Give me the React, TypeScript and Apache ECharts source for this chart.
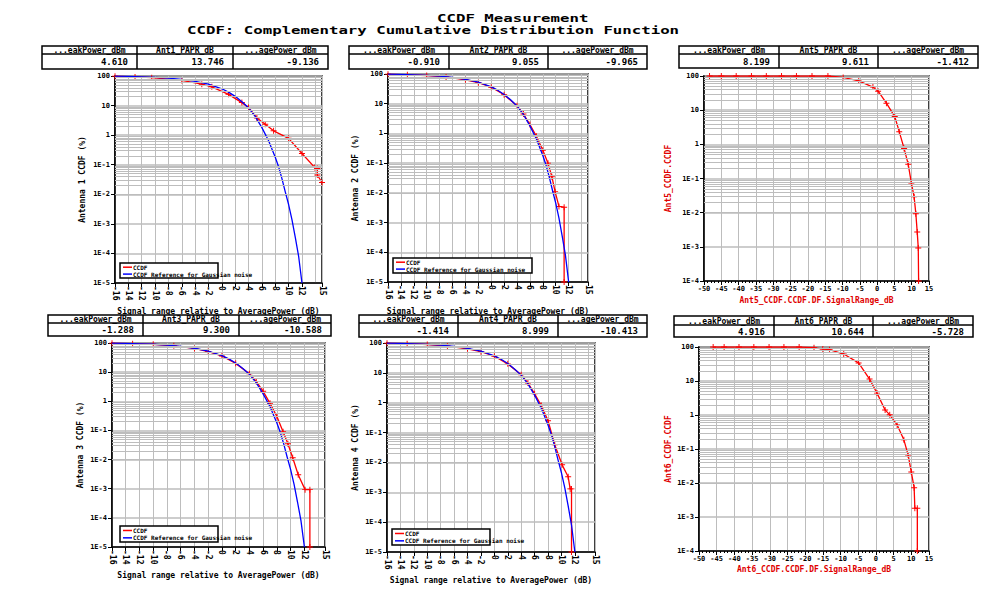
import React, { useEffect, useRef } from "react";
import * as echarts from "echarts";

// ---------- DATA ----------
const titleLine1 = "CCDF Measurement";
const titleLine2 = "CCDF: Complementary Cumulative Distribution Function";

const tableHeaders = [
  ["...eakPower_dBm", "Ant1_PAPR_dB", "...agePower_dBm"],
  ["...eakPower_dBm", "Ant2_PAPR_dB", "...agePower_dBm"],
  ["...eakPower_dBm", "Ant5_PAPR_dB", "...agePower_dBm"],
  ["...eakPower_dBm", "Ant3_PAPR_dB", "...agePower_dBm"],
  ["...eakPower_dBm", "Ant4_PAPR_dB", "...agePower_dBm"],
  ["...eakPower_dBm", "Ant6_PAPR_dB", "...agePower_dBm"],
];
const tableValues = [
  ["4.610", "13.746", "-9.136"],
  ["-0.910", "9.055", "-9.965"],
  ["8.199", "9.611", "-1.412"],
  ["-1.288", "9.300", "-10.588"],
  ["-1.414", "8.999", "-10.413"],
  ["4.916", "10.644", "-5.728"],
];

const yNames = [
  "Antenna 1 CCDF (%)",
  "Antenna 2 CCDF (%)",
  "Ant5_CCDF.CCDF",
  "Antenna 3 CCDF (%)",
  "Antenna 4 CCDF (%)",
  "Ant6_CCDF.CCDF",
];
const xNames = [
  "Signal range relative to AveragePower (dB)",
  "Signal range relative to AveragePower (dB)",
  "Ant5_CCDF.CCDF.DF.SignalRange_dB",
  "Signal range relative to AveragePower (dB)",
  "Signal range relative to AveragePower (dB)",
  "Ant6_CCDF.CCDF.DF.SignalRange_dB",
];
const legendNames = ["CCDF", "CCDF Reference for Gaussian noise"];

// Gaussian reference (blue)
const blueX = [-16, -14, -12, -10, -8, -6, -4, -2, 0, 1, 2, 3, 4, 5, 6, 7, 8, 8.5, 9, 9.5, 10, 10.5, 11, 11.5, 12];
const blueY = [98.5, 97, 94, 90.5, 85, 77, 66, 53, 37, 28.5, 20.5, 13.5, 8.4, 4.3, 1.8, 0.65, 0.18, 0.085, 0.034, 0.012, 0.0045, 0.0014, 0.00035, 0.00008, 0.00001];

const ant1X = [-16, -13, -10.5, -6, -3, -1.5, 1, 3, 4, 5.25, 6.5, 7.75, 10, 12, 13.9, 14.3, 14.3, 15];
const ant1Y = [99, 93, 88, 71, 53, 43, 24, 12.6, 8.6, 3.8, 2.35, 1.4, 0.78, 0.24, 0.081, 0.075, 0.045, 0.025];

const ant2X = [-16, -13, -10, -7, -4, -2, 0, 2, 4, 5, 6, 7, 8, 8.8, 9.4, 9.9, 10.5, 11.3, 11.3];
const ant2Y = [99, 94, 89, 80, 64, 51, 36, 20, 8.5, 4.5, 2.0, 0.8, 0.27, 0.1, 0.035, 0.011, 0.0035, 0.0033, 0.00001];

const ant5X = [-48.4, -45, -40.7, -36.3, -32, -27.6, -23.3, -18.8, -14.2, -9.8, -5.3, -1.2, 0.3, 2.7, 5.1, 6.4, 7.8, 9.0, 9.9, 10.7, 11.2, 11.6, 11.9, 12.0];
const ant5Y = [100, 100, 100, 100, 100, 100, 100, 100, 100, 91, 72, 47.5, 36, 16, 6.5, 2.35, 0.76, 0.26, 0.074, 0.029, 0.0093, 0.0027, 0.00093, 0.0001];

const ant3X = [-16, -13, -10, -7, -4, -2, 0, 2, 4, 5, 6, 7, 8, 8.9, 9.6, 10.3, 11.1, 12.1, 12.8, 12.8];
const ant3Y = [99, 95, 90, 80, 65, 51, 36, 20, 8.8, 4.8, 2.2, 0.85, 0.3, 0.09, 0.035, 0.0115, 0.003, 0.00093, 0.00093, 0.00001];

const ant4X = [-16, -13, -10, -7, -4, -2, 0, 2, 4, 5, 6, 7, 8, 9, 10.1, 11, 11.3, 11.5, 11.5];
const ant4Y = [99, 95, 89, 79, 64, 51, 36, 20, 8.6, 4.6, 2.0, 0.8, 0.25, 0.039, 0.0083, 0.0033, 0.0013, 0.0013, 0.00001];

const ant6X = [-46, -42.9, -38.7, -34.5, -30.2, -26, -21.7, -17.5, -15, -13.1, -9.1, -4.9, -1.8, 0.3, 2.6, 3.9, 6.0, 7.9, 9.1, 10.0, 10.8, 11.0, 11.7, 11.7];
const ant6Y = [100, 100, 100, 100, 100, 100, 100, 95.6, 87, 83.6, 62, 34, 11.4, 4.4, 1.41, 1.01, 0.51, 0.186, 0.067, 0.021, 0.0073, 0.0018, 0.0018, 0.0001];

const redXs = [ant1X, ant2X, ant5X, ant3X, ant4X, ant6X];
const redYs = [ant1Y, ant2Y, ant5Y, ant3Y, ant4Y, ant6Y];
const hasReference = [true, true, false, true, true, false];
const xMins = [-16, -16, -50, -16, -16, -50];
const xMaxs = [15, 15, 15, 15, 15, 15];
const xIntervals = [2, 2, 5, 2, 2, 5];
const yMins = [1e-5, 1e-5, 1e-4, 1e-5, 1e-5, 1e-4];
const yMaxs = [100, 100, 100, 100, 100, 100];

// ---------- LAYOUT ----------
const grids = [
  { left: 115, top: 76, width: 207, height: 207 },
  { left: 388, top: 74, width: 200, height: 208 },
  { left: 704, top: 76, width: 225, height: 205 },
  { left: 112, top: 343, width: 213, height: 204 },
  { left: 387, top: 343, width: 208, height: 209 },
  { left: 699, top: 347, width: 230, height: 204 },
];
const tables = [
  { x: 42, y: 46, cols: [42, 137, 233, 328], mid: 54, bottom: 69 },
  { x: 349, y: 46, cols: [349, 449, 548, 647], mid: 54, bottom: 69 },
  { x: 679, y: 46, cols: [679, 779, 878, 978], mid: 54, bottom: 68 },
  { x: 48, y: 315, cols: [48, 143, 239, 331], mid: 323, bottom: 336 },
  { x: 359, y: 315, cols: [359, 458, 558, 647], mid: 323, bottom: 337 },
  { x: 674, y: 316, cols: [674, 774, 873, 973], mid: 325, bottom: 337 },
];
const legends = [
  { x: 120, y: 263, w: 98, h: 15 },
  { x: 393, y: 258, w: 139, h: 15 },
  null,
  { x: 120, y: 526, w: 98, h: 16 },
  { x: 392, y: 529, w: 98, h: 16 },
  null,
];
const yNameGaps = [29, 29, 32, 28, 28, 27];
const xNameGaps = [24, 25, 15, 24, 24, 14];
const nameColors = ["#000", "#000", "#e00000", "#000", "#000", "#e00000"];

const MONO = "'DejaVu Sans Mono', 'Liberation Mono', monospace";
const RED = "#ff0000";
const BLUE = "#0000ff";
const GRID_GREY = "#bdbdbd";
const PLUS = "path://M0,4.2 L10,4.2 L10,5.8 L0,5.8 Z M4.2,0 L5.8,0 L5.8,10 L4.2,10 Z";

function logLabel(v: number): string {
  const e = Math.round(Math.log10(v));
  if (e >= 0) return String(Math.round(Math.pow(10, e)));
  return "1E" + e;
}

function minorLines(yMin: number, yMax: number) {
  const out: any[] = [];
  const e0 = Math.round(Math.log10(yMin));
  const e1 = Math.round(Math.log10(yMax));
  for (let e = e0; e < e1; e++) {
    for (let k = 2; k <= 9; k++) out.push({ yAxis: k * Math.pow(10, e) });
  }
  return out;
}

function buildOption() {
  const xAxis: any[] = [];
  const yAxis: any[] = [];
  const series: any[] = [];
  const graphic: any[] = [];

  graphic.push({
    type: "text",
    x: 437,
    y: 12,
    scaleX: 1.43,
    style: { text: titleLine1, font: `bold 11px ${MONO}`, fill: "#000" },
  });
  graphic.push({
    type: "text",
    x: 187,
    y: 24,
    scaleX: 1.43,
    style: { text: titleLine2, font: `bold 11px ${MONO}`, fill: "#000" },
  });

  for (let i = 0; i < 6; i++) {
    const wide = xIntervals[i] === 5;
    xAxis.push({
      gridIndex: i,
      type: "value",
      min: xMins[i],
      max: xMaxs[i],
      interval: xIntervals[i],
      axisLine: { show: true, onZero: false, lineStyle: { color: "#000", width: 1.5 } },
      axisTick: { show: true, length: 4, lineStyle: { color: "#000", width: 1 } },
      minorTick: wide ? { show: true, splitNumber: 5, length: 2, lineStyle: { color: "#000" } } : { show: false },
      axisLabel: {
        rotate: wide ? 0 : -90,
        fontFamily: MONO,
        fontSize: wide ? 7 : 8,
        fontWeight: "bold",
        color: "#000",
        margin: wide ? 4 : 3,
        showMaxLabel: true,
        showMinLabel: true,
      },
      splitLine: { show: true, lineStyle: { color: GRID_GREY, width: 1 } },
      name: xNames[i],
      nameLocation: "middle",
      nameGap: xNameGaps[i],
      nameTextStyle: { fontFamily: MONO, fontSize: 8, fontWeight: "bold", color: nameColors[i] },
    });
    yAxis.push({
      gridIndex: i,
      type: "log",
      logBase: 10,
      min: yMins[i],
      max: yMaxs[i],
      axisLine: { show: true, onZero: false, lineStyle: { color: "#000", width: 1.5 } },
      axisTick: { show: true, length: 4, lineStyle: { color: "#000" } },
      axisLabel: {
        formatter: (v: number) => logLabel(v),
        fontFamily: MONO,
        fontSize: 7,
        fontWeight: "bold",
        color: "#000",
        margin: 5,
      },
      splitLine: { show: true, lineStyle: { color: GRID_GREY, width: 1.5 } },
      name: yNames[i],
      nameLocation: "middle",
      nameRotate: 90,
      nameGap: yNameGaps[i],
      nameTextStyle: { fontFamily: MONO, fontSize: 8, fontWeight: "bold", color: nameColors[i] },
    });

    // minor grid lines
    series.push({
      type: "line",
      xAxisIndex: i,
      yAxisIndex: i,
      data: [],
      z: 1,
      silent: true,
      markLine: {
        silent: true,
        symbol: ["none", "none"],
        label: { show: false },
        lineStyle: { color: GRID_GREY, width: 1, type: "solid" },
        emphasis: { disabled: true },
        data: minorLines(yMins[i], yMaxs[i]),
      },
    });

    series.push({
      type: "line",
      name: legendNames[0],
      xAxisIndex: i,
      yAxisIndex: i,
      data: redXs[i].map((x, j) => [x, redYs[i][j]]),
      showSymbol: true,
      showAllSymbol: true,
      symbol: PLUS,
      symbolSize: 6,
      itemStyle: { color: RED },
      lineStyle: { color: RED, width: 1.3 },
      z: 3,
    });
    if (hasReference[i]) {
      series.push({
        type: "line",
        name: legendNames[1],
        xAxisIndex: i,
        yAxisIndex: i,
        data: blueX.map((x, j) => [x, blueY[j]]),
        showSymbol: false,
        lineStyle: { color: BLUE, width: 1.3 },
        z: 4,
      });
    }

    // table
    const t = tables[i];
    const c = t.cols;
    graphic.push({
      type: "rect",
      shape: { x: c[0], y: t.y, width: c[3] - c[0], height: t.bottom - t.y },
      style: { fill: "#fff", stroke: "#000", lineWidth: 1.5 },
      z: 10,
    });
    graphic.push({
      type: "line",
      shape: { x1: c[0], y1: t.mid, x2: c[3], y2: t.mid },
      style: { stroke: "#000", lineWidth: 1.5 },
      z: 11,
    });
    for (let k = 1; k < 3; k++) {
      graphic.push({
        type: "line",
        shape: { x1: c[k], y1: t.y, x2: c[k], y2: t.bottom },
        style: { stroke: "#000", lineWidth: 1.5 },
        z: 11,
      });
    }
    for (let k = 0; k < 3; k++) {
      graphic.push({
        type: "text",
        x: (c[k] + c[k + 1]) / 2,
        y: (t.y + t.mid) / 2 + 0.5,
        style: {
          text: tableHeaders[i][k],
          font: `bold 8px ${MONO}`,
          fill: "#000",
          align: "center",
          verticalAlign: "middle",
        },
        z: 12,
      });
      graphic.push({
        type: "text",
        x: c[k + 1] - 9,
        y: (t.mid + t.bottom) / 2 + 0.5,
        style: {
          text: tableValues[i][k],
          font: `bold 9px ${MONO}`,
          fill: "#000",
          align: "right",
          verticalAlign: "middle",
        },
        z: 12,
      });
    }

    // legend
    const L = legends[i];
    if (L) {
      graphic.push({
        type: "rect",
        shape: { x: L.x, y: L.y, width: L.w, height: L.h },
        style: { fill: "#fff", stroke: "#000", lineWidth: 1.5 },
        z: 20,
      });
      const rows = [L.y + L.h * 0.28, L.y + L.h * 0.74];
      const cols = [RED, BLUE];
      for (let r = 0; r < 2; r++) {
        graphic.push({
          type: "line",
          shape: { x1: L.x + 3, y1: rows[r], x2: L.x + 12, y2: rows[r] },
          style: { stroke: cols[r], lineWidth: 1.5 },
          z: 21,
        });
        graphic.push({
          type: "text",
          x: L.x + 13,
          y: rows[r],
          style: {
            text: legendNames[r],
            font: `bold 6px ${MONO}`,
            fill: "#000",
            align: "left",
            verticalAlign: "middle",
          },
          z: 21,
        });
      }
    }
  }

  return {
    animation: false,
    backgroundColor: "#fff",
    grid: grids.map((g) => ({
      ...g,
      containLabel: false,
      show: true,
      borderColor: "#000",
      borderWidth: 1.5,
      backgroundColor: "transparent",
    })),
    xAxis,
    yAxis,
    series,
    graphic,
  };
}

export default function App() {
  const ref = useRef<HTMLDivElement>(null);
  useEffect(() => {
    if (!ref.current) return;
    const chart = echarts.init(ref.current, undefined, { renderer: "svg" });
    chart.setOption(buildOption() as any);
    return () => chart.dispose();
  }, []);
  return (
    <div
      ref={ref}
      style={{ position: "fixed", left: 0, top: 0, width: 1003, height: 601, background: "#fff" }}
    />
  );
}
